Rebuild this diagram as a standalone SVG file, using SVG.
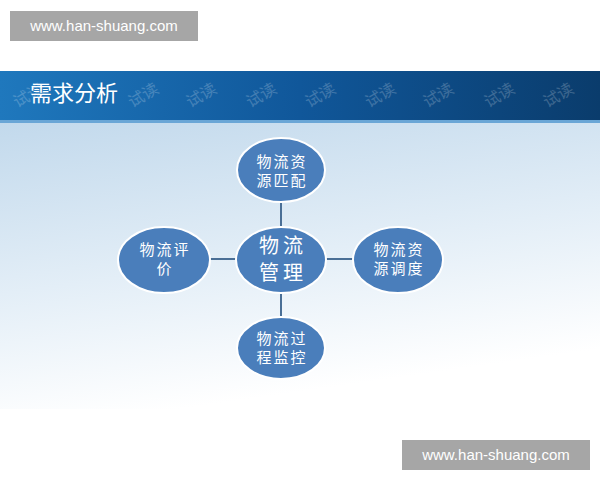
<svg xmlns="http://www.w3.org/2000/svg" width="600" height="480" viewBox="0 0 600 480">
<defs>
<linearGradient id="hdr" x1="0" y1="0" x2="1" y2="0">
<stop offset="0" stop-color="#1f78bd"/>
<stop offset="0.5" stop-color="#10579a"/>
<stop offset="1" stop-color="#0a3c6c"/>
</linearGradient>
<linearGradient id="bg" x1="0" y1="0" x2="0.3" y2="1">
<stop offset="0" stop-color="#c2d9ec"/>
<stop offset="0.55" stop-color="#e3eef7"/>
<stop offset="1" stop-color="#ffffff"/>
</linearGradient>
<style>
.node{fill:#4a7ebb;stroke:#ffffff;stroke-width:2}
.t{font-family:"Noto Sans CJK SC",sans-serif;fill:#ffffff;text-anchor:middle}
.s{font-size:15px;letter-spacing:2px}
.b{font-size:20px;letter-spacing:4px}
.wm{font-family:"Liberation Sans",Arial,sans-serif;font-size:15px;fill:#ffffff}
.mark{font-family:"Noto Sans CJK SC",sans-serif;font-size:16px;fill:#ffffff;opacity:0.2;text-anchor:middle}
.conn line{stroke:#4a6f96;stroke-width:2}
</style>
</defs>
<rect width="600" height="480" fill="#ffffff"/>
<rect x="0" y="123" width="600" height="286" fill="url(#bg)"/>
<rect x="0" y="71" width="600" height="52" fill="url(#hdr)"/>
<rect x="0" y="120" width="600" height="3" fill="#6aa6d6"/>
<g id="marks">
<text class="mark" transform="translate(31,100) rotate(-30)">试读</text>
<text class="mark" transform="translate(146,100) rotate(-30)">试读</text>
<text class="mark" transform="translate(204,100) rotate(-30)">试读</text>
<text class="mark" transform="translate(264,100) rotate(-30)">试读</text>
<text class="mark" transform="translate(323,100) rotate(-30)">试读</text>
<text class="mark" transform="translate(383,100) rotate(-30)">试读</text>
<text class="mark" transform="translate(441,100) rotate(-30)">试读</text>
<text class="mark" transform="translate(502,100) rotate(-30)">试读</text>
<text class="mark" transform="translate(561,100) rotate(-30)">试读</text>
</g>
<text x="30" y="101" font-family="Noto Sans CJK SC,sans-serif" font-size="22" fill="#ffffff">需求分析</text>
<g id="wm-top">
<rect x="10" y="11" width="188" height="30" fill="#a6a6a6"/>
<text class="wm" x="104" y="31" text-anchor="middle">www.han-shuang.com</text>
</g>
<g id="wm-bottom">
<rect x="402" y="440" width="188" height="30" fill="#a6a6a6"/>
<text class="wm" x="496" y="460" text-anchor="middle">www.han-shuang.com</text>
</g>
<g class="conn" id="connectors">
<line x1="281" y1="202" x2="281" y2="227"/>
<line x1="210" y1="259" x2="236" y2="259"/>
<line x1="326" y1="259" x2="353" y2="259"/>
<line x1="281" y1="293" x2="281" y2="317"/>
</g>
<g id="n-top">
<ellipse class="node" cx="281" cy="170" rx="44" ry="32"/>
<text class="t s" x="282" y="167">物流资</text>
<text class="t s" x="282" y="186">源匹配</text>
</g>
<g id="n-center">
<ellipse class="node" cx="281" cy="260" rx="45" ry="33"/>
<text class="t b" x="283" y="253">物流</text>
<text class="t b" x="283" y="280">管理</text>
</g>
<g id="n-left">
<ellipse class="node" cx="164" cy="260" rx="46" ry="33"/>
<text class="t s" x="165" y="255">物流评</text>
<text class="t s" x="165" y="274">价</text>
</g>
<g id="n-right">
<ellipse class="node" cx="398" cy="260" rx="45" ry="33"/>
<text class="t s" x="399" y="255">物流资</text>
<text class="t s" x="399" y="274">源调度</text>
</g>
<g id="n-bottom">
<ellipse class="node" cx="281" cy="348" rx="44" ry="31"/>
<text class="t s" x="282" y="344">物流过</text>
<text class="t s" x="282" y="363">程监控</text>
</g>
</svg>
